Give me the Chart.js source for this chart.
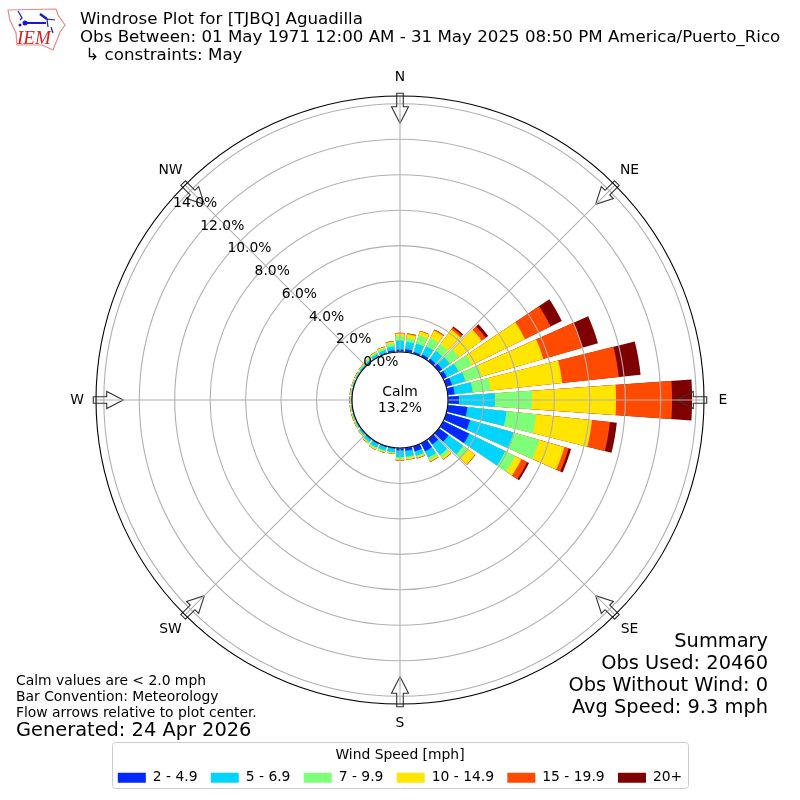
<!DOCTYPE html>
<html>
<head>
<meta charset="utf-8">
<style>html,body{margin:0;padding:0;background:#fff}canvas{display:block}</style>
<script src="https://cdn.jsdelivr.net/npm/chart.js@4"></script>
</head>
<body>
<canvas id="c" width="800" height="800"></canvas>
<script>
const DIRECTIONS = [0,10,20,30,40,50,60,70,80,90,100,110,120,130,140,150,160,170,180,190,200,210,220,230,240,250,260,270,280,290,300,310,320,330,340,350];
const SERIES_NAMES = ['2 - 4.9','5 - 6.9','7 - 9.9','10 - 14.9','15 - 19.9','20+'];
const SERIES_COLORS = ['#0028ff','#00d4ff','#7dff7a','#ffe500','#ff4a00','#7f0000'];
const s2to5   = [.14,.17,.11,.15,.17,.23,.23,.34,.39,.62,1.11,1.41,1.64,.68,.39,.51,.31,.17,.14,.06,.06,.06,.05,.04,.03,.02,.02,.02,.02,.02,.02,.03,.03,.05,.06,.11];
const s5to7   = [.51,.42,.48,.52,.55,.54,.73,.79,1.02,2.03,2.22,2.54,2.26,1.02,.73,.39,.25,.34,.38,.20,.20,.22,.17,.10,.07,.06,.05,.04,.05,.06,.06,.07,.09,.14,.17,.22];
const s7to10  = [.23,.23,.50,.51,.46,.64,.85,.96,1.02,2.09,1.69,1.52,.62,.34,.20,.17,.08,.08,.08,.06,.08,.09,.06,.04,.04,.03,.03,.03,.03,.03,.04,.05,.05,.08,.11,.17];
const s10to15 = [.17,.20,.24,.48,1.02,1.58,3.33,3.61,4.06,4.74,3.16,1.47,.39,.48,.11,.08,.06,.08,.09,.03,.05,.05,.04,.03,.03,.03,.03,.03,.03,.03,.03,.03,.03,.05,.07,.11];
const s15to20 = [.03,.05,.03,.06,.14,.28,1.61,2.31,3.21,3.16,1.02,.25,.37,.03,.03,.03,.03,.02,.02,.01,.01,.01,.01,.01,.01,.02,.02,.02,.02,.01,.01,.01,.01,.01,.02,.03];
const s20plus = [0,0,0,0,.08,.17,.70,.90,1.24,1.13,.39,.14,.11,0,0,0,0,0,0,0,0,0,0,0,0,0,0,0,0,0,0,0,0,0,0,0];
const SERIES_VALUES = [s2to5,s5to7,s7to10,s10to15,s15to20,s20plus];
const RING_TICKS = [0,2,4,6,8,10,12,14];
const COMPASS = [['N',0],['NE',45],['E',90],['SE',135],['S',180],['SW',225],['W',270],['NW',315]];
const TITLE_LINES = ['Windrose Plot for [TJBQ] Aguadilla','Obs Between: 01 May 1971 12:00 AM - 31 May 2025 08:50 PM America/Puerto_Rico',' \u21B3 constraints: May'];
const NOTE_LINES = ['Calm values are < 2.0 mph','Bar Convention: Meteorology','Flow arrows relative to plot center.'];
const GENERATED = 'Generated: 24 Apr 2026';
const SUMMARY_LINES = ['Summary','Obs Used: 20460','Obs Without Wind: 0','Avg Speed: 9.3 mph'];
const CALM_LINES = ['Calm','13.2%'];
const LEGEND_TITLE = 'Wind Speed [mph]';

const FONT = '"DejaVu Sans"';
const BAR_DEG = 8, GAP_DEG = 2;

const labels = [];
DIRECTIONS.forEach(d => { labels.push(d + '\u00B0'); labels.push(''); });

function cumulative(upTo, i) {
  let t = 0;
  for (let s = 0; s <= upTo; s++) t += SERIES_VALUES[s][i];
  return t;
}
const datasets = SERIES_NAMES.map((name, s) => {
  const data = [];
  DIRECTIONS.forEach((d, i) => { data.push(cumulative(s, i)); data.push(0); });
  return {
    label: name, data,
    backgroundColor: ctx => ctx.index % 2 ? 'rgba(0,0,0,0)' : SERIES_COLORS[s],
    borderWidth: 0,
    angle: ctx => ctx.index % 2 ? GAP_DEG : BAR_DEG
  };
});

function text(ctx, str, x, y, size, align, base, color) {
  ctx.font = size + 'px ' + FONT;
  ctx.textAlign = align || 'left';
  ctx.textBaseline = base || 'middle';
  ctx.fillStyle = color || '#000';
  ctx.fillText(str, x, y);
}

function polar(cx, cy, r, deg) {
  const a = deg * Math.PI / 180;
  return [cx + r * Math.sin(a), cy - r * Math.cos(a)];
}

function drawLogo(ctx) {
  ctx.save();
  ctx.strokeStyle = '#e58a8a'; ctx.lineWidth = 1.2; ctx.fillStyle = '#fff';
  const o = [[8,10],[56,9],[58,15],[65,25],[60,32],[57,40],[53,50],[42,45],[17,45],[16,33],[10,20]];
  ctx.beginPath(); o.forEach((p,i)=> i?ctx.lineTo(p[0],p[1]):ctx.moveTo(p[0],p[1])); ctx.closePath(); ctx.stroke();
  ctx.strokeStyle = '#1a1ac8'; ctx.fillStyle = '#1a1ac8';
  ctx.lineWidth = 2;
  ctx.beginPath(); ctx.moveTo(25,23); ctx.lineTo(46,23); ctx.stroke();
  ctx.lineWidth = 1.2;
  ctx.beginPath(); ctx.moveTo(18,11); ctx.lineTo(22,18); ctx.lineTo(20,20); ctx.stroke();
  ctx.beginPath(); ctx.arc(25,23,2.5,0,Math.PI*2); ctx.fill();
  ctx.beginPath(); ctx.arc(20,25,1.5,0,Math.PI*2); ctx.fill();
  ctx.lineWidth = 2.5;
  ctx.beginPath(); ctx.moveTo(40,14); ctx.lineTo(47,19); ctx.stroke();
  ctx.lineWidth = 1.2;
  ctx.beginPath(); ctx.moveTo(47,19); ctx.lineTo(55,20); ctx.moveTo(47,19); ctx.lineTo(48,27); ctx.moveTo(51,27); ctx.lineTo(53,33); ctx.stroke();
  ctx.restore();
  ctx.font = 'italic 19px "Liberation Serif"';
  ctx.textAlign = 'left'; ctx.textBaseline = 'alphabetic'; ctx.fillStyle = '#d42020';
  ctx.fillText('IEM', 17, 44);
}

const decor = {
  id: 'decor',
  afterDraw(chart) {
    const ctx = chart.ctx, sc = chart.scales.r;
    const cx = sc.xCenter, cy = sc.yCenter;
    const hub = sc.getDistanceFromCenterForValue(0);
    const rim = sc.getDistanceFromCenterForValue(sc.max);
    ctx.save();
    // flow arrows
    ctx.strokeStyle = '#333'; ctx.lineWidth = 1.1; ctx.lineJoin = 'miter';
    COMPASS.forEach(([n, d]) => {
      ctx.save(); ctx.translate(cx, cy); ctx.rotate(d * Math.PI / 180);
      const tail = rim + 2.7, base = rim - 10.7, tip = rim - 27.3, ht = 3.3, hh = 8.5;
      ctx.beginPath();
      ctx.moveTo(-ht, -tail); ctx.lineTo(ht, -tail); ctx.lineTo(ht, -base); ctx.lineTo(hh, -base);
      ctx.lineTo(0, -tip); ctx.lineTo(-hh, -base); ctx.lineTo(-ht, -base); ctx.closePath();
      ctx.stroke();
      ctx.restore();
    });
    // spokes
    ctx.strokeStyle = '#b0b0b0'; ctx.lineWidth = 1.1;
    COMPASS.forEach(([n, d]) => {
      const a = polar(cx, cy, hub, d), b = polar(cx, cy, rim, d);
      ctx.beginPath(); ctx.moveTo(a[0], a[1]); ctx.lineTo(b[0], b[1]); ctx.stroke();
    });
    // rim
    ctx.strokeStyle = '#000'; ctx.lineWidth = 1.1;
    ctx.beginPath(); ctx.arc(cx, cy, rim, 0, Math.PI * 2); ctx.stroke();
    // hub
    ctx.fillStyle = '#fff'; ctx.strokeStyle = '#000'; ctx.lineWidth = 1.1;
    ctx.beginPath(); ctx.arc(cx, cy, hub, 0, Math.PI * 2); ctx.fill(); ctx.stroke();
    text(ctx, CALM_LINES[0], cx, cy - 8, 13.89, 'center');
    text(ctx, CALM_LINES[1], cx, cy + 8.5, 13.89, 'center');
    // radial tick labels
    RING_TICKS.forEach(v => {
      const p = polar(cx, cy, sc.getDistanceFromCenterForValue(v), 310);
      text(ctx, v.toFixed(1) + '%', p[0], p[1] - 6.5, 13.89, 'left');
    });
    // compass labels
    COMPASS.forEach(([n, d]) => {
      const off = d % 90 === 0 ? rim + 19 : rim + 20.5;
      const p = polar(cx, cy, off, d);
      text(ctx, n, p[0], p[1], 13.89, 'center');
    });
    // header
    drawLogo(ctx);
    const ty = [19.5, 37.5, 56];
    TITLE_LINES.forEach((t, i) => text(ctx, t, 80, ty[i], 15.28 * 700 / 642));
    // notes
    const ny = [681, 697, 713];
    NOTE_LINES.forEach((t, i) => text(ctx, t, 16, ny[i], 13.89));
    text(ctx, GENERATED, 16, 731, 19.4);
    const sy = [642, 664, 686, 708];
    SUMMARY_LINES.forEach((t, i) => text(ctx, t, 768, sy[i], 19.4, 'right'));
    // legend frame
    ctx.strokeStyle = '#cccccc'; ctx.lineWidth = 1;
    ctx.beginPath(); ctx.roundRect(112.5, 742.5, 576, 46, 3); ctx.stroke();
    ctx.restore();
  }
};

new Chart(document.getElementById('c'), {
  type: 'polarArea',
  data: { labels, datasets },
  plugins: [decor],
  options: {
    responsive: false,
    devicePixelRatio: 1,
    animation: false,
    layout: { padding: { left: 96, right: 96, top: 96, bottom: 5.4 } },
    elements: { arc: { borderWidth: 0 } },
    scales: {
      r: {
        min: -2.707, max: 14.44, startAngle: -BAR_DEG / 2,
        ticks: { display: false, stepSize: 2, includeBounds: false },
        grid: { color: '#b0b0b0', lineWidth: 1.1, circular: true, z: 1 },
        angleLines: { display: false },
        pointLabels: { display: false }
      }
    },
    plugins: {
      tooltip: { enabled: false },
      legend: {
        display: true, position: 'bottom',
        title: { display: true, text: LEGEND_TITLE, color: '#000', font: { family: FONT, size: 13.89 }, padding: { top: 42.7, bottom: -7.7 } },
        labels: {
          boxWidth: 28, boxHeight: 10, padding: 13.3, color: '#000',
          font: { family: FONT, size: 13.89 },
          generateLabels: () => SERIES_NAMES.map((n, i) => ({ text: n, fillStyle: SERIES_COLORS[i], strokeStyle: SERIES_COLORS[i], lineWidth: 0, datasetIndex: i, hidden: false }))
        }
      }
    }
  }
});
</script>
</body>
</html>
